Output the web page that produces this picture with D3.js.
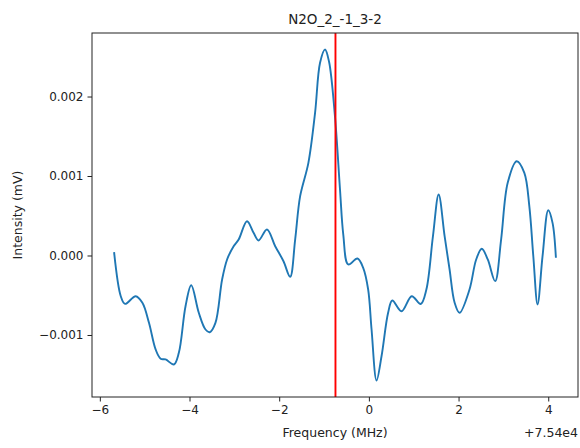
<!DOCTYPE html>
<html>
<head>
    <meta charset="UTF-8" />
    <title>N2O_2_-1_3-2</title>
    <script src="https://cdn.jsdelivr.net/npm/d3@7"></script>
    <style type="text/css">
        body {
            margin: 0;
            background-color: #fff;
            font-family: 'DejaVu Sans', sans-serif;
        }
        .tick text {
            font-size: 12px;
            fill: #222;
        }
        .tick line {
            stroke: #222;
        }
    </style>
</head>
<body>
<div id="chart"></div>
<script>
    // frequency offset from 75400 MHz
    var freq = [-5.682, -5.533, -5.438, -5.2, -5.051, -4.904, -4.756, -4.644, -4.533, -4.349,
        -4.238, -4.089, -3.962, -3.793, -3.644, -3.549, -3.422, -3.273, -3.162, -3.016,
        -2.904, -2.718, -2.571, -2.46, -2.273, -2.089, -1.904, -1.756, -1.644, -1.533,
        -1.349, -1.2, -1.089, -0.978, -0.889, -0.756, -0.644, -0.571, -0.46, -0.256,
        -0.127, -0.016, 0.06, 0.171, 0.282, 0.429, 0.522, 0.727, 0.956, 1.156,
        1.282, 1.429, 1.556, 1.689, 1.8, 1.911, 2.022, 2.244, 2.393, 2.518,
        2.651, 2.816, 2.949, 3.096, 3.296, 3.467, 3.578, 3.667, 3.762, 3.873,
        4.0, 4.096, 4.171];
    // intensity in units of 1e-3 mV
    var intensity = [0.042, -0.512, -0.608, -0.512, -0.595, -0.847, -1.182, -1.299, -1.308, -1.371,
        -1.224, -0.638, -0.374, -0.721, -0.931, -0.965, -0.847, -0.302, -0.05, 0.117,
        0.201, 0.431, 0.286, 0.189, 0.327, 0.117, -0.072, -0.268, 0.201, 0.746,
        1.166, 1.795, 2.424, 2.591, 2.44, 1.748, 0.83, 0.264, -0.113, -0.038,
        -0.155, -0.428, -0.931, -1.572, -1.267, -0.721, -0.566, -0.701, -0.512, -0.61,
        -0.428, 0.243, 0.767, 0.243, -0.176, -0.591, -0.721, -0.428, -0.05, 0.084,
        -0.05, -0.323, 0.201, 0.914, 1.186, 1.04, 0.62, -0.009, -0.616, -0.009,
        0.57, 0.411, -0.029];
    var markerFreq = [-0.745];
    var xTicks = [-6, -4, -2, 0, 2, 4];
    var yTicks = [-0.001, 0, 0.001, 0.002];
    var title = "N2O_2_-1_3-2";
    var xLabel = "Frequency (MHz)";
    var yLabel = "Intensity (mV)";
    var offsetText = "+7.54e4";

    var w = 580, h = 448;
    var margin = {top: 33, right: 2, bottom: 51, left: 92};
    var iw = w - margin.left - margin.right;
    var ih = h - margin.top - margin.bottom;

    var data = freq.map(function(f, i) { return {x: f, y: intensity[i] / 1000}; });

    // matplotlib-like 5% margins
    var xe = d3.extent(data, function(d) { return d.x; });
    var ye = d3.extent(data, function(d) { return d.y; });
    var xp = (xe[1] - xe[0]) * 0.05, yp = (ye[1] - ye[0]) * 0.05;

    var x = d3.scaleLinear().domain([xe[0] - xp, xe[1] + xp]).range([0, iw]);
    var y = d3.scaleLinear().domain([ye[0] - yp, ye[1] + yp]).range([ih, 0]);

    var svg = d3.select("#chart")
        .append("svg")
        .attr("width", w)
        .attr("height", h)
        .append("g")
        .attr("transform", "translate(" + margin.left + "," + margin.top + ")");

    svg.append("defs").append("clipPath").attr("id", "clip")
        .append("rect").attr("width", iw).attr("height", ih);

    var line = d3.line()
        .x(function(d) { return x(d.x); })
        .y(function(d) { return y(d.y); })
        .curve(d3.curveCatmullRom.alpha(0.5));

    var plot = svg.append("g").attr("clip-path", "url(#clip)");

    plot.append("path")
        .datum(data)
        .attr("d", line)
        .attr("fill", "none")
        .attr("stroke", "#1f77b4")
        .attr("stroke-width", 1.9)
        .attr("stroke-linejoin", "round");

    plot.selectAll(".marker")
        .data(markerFreq)
        .enter().append("line")
        .attr("class", "marker")
        .attr("x1", function(d) { return x(d); })
        .attr("x2", function(d) { return x(d); })
        .attr("y1", 0)
        .attr("y2", ih)
        .attr("stroke", "red")
        .attr("stroke-width", 1.9);

    var xAxis = d3.axisBottom(x).tickValues(xTicks).tickSize(4.5).tickPadding(4)
        .tickFormat(d3.format("d"));
    var yAxis = d3.axisLeft(y).tickValues(yTicks).tickSize(4.5).tickPadding(4)
        .tickFormat(d3.format(".3f"));

    var gx = svg.append("g").attr("transform", "translate(0," + ih + ")").call(xAxis);
    var gy = svg.append("g").call(yAxis);
    gx.select(".domain").remove();
    gy.select(".domain").remove();
    gx.selectAll("text").attr("font-family", "DejaVu Sans");
    gy.selectAll("text").attr("font-family", "DejaVu Sans");

    // frame
    svg.append("rect")
        .attr("width", iw)
        .attr("height", ih)
        .attr("fill", "none")
        .attr("stroke", "#222")
        .attr("stroke-width", 1);

    svg.append("text")
        .attr("x", iw / 2)
        .attr("y", -9)
        .attr("text-anchor", "middle")
        .attr("font-size", 13.5)
        .attr("fill", "#222")
        .text(title);

    svg.append("text")
        .attr("x", iw / 2)
        .attr("y", ih + 40)
        .attr("text-anchor", "middle")
        .attr("font-size", 12.5)
        .attr("fill", "#222")
        .text(xLabel);

    svg.append("text")
        .attr("x", iw)
        .attr("y", ih + 40)
        .attr("text-anchor", "end")
        .attr("font-size", 12.5)
        .attr("fill", "#222")
        .text(offsetText);

    svg.append("text")
        .attr("transform", "translate(" + (-70) + "," + (ih / 2) + ") rotate(-90)")
        .attr("text-anchor", "middle")
        .attr("font-size", 12.5)
        .attr("fill", "#222")
        .text(yLabel);
</script>
</body>
</html>
